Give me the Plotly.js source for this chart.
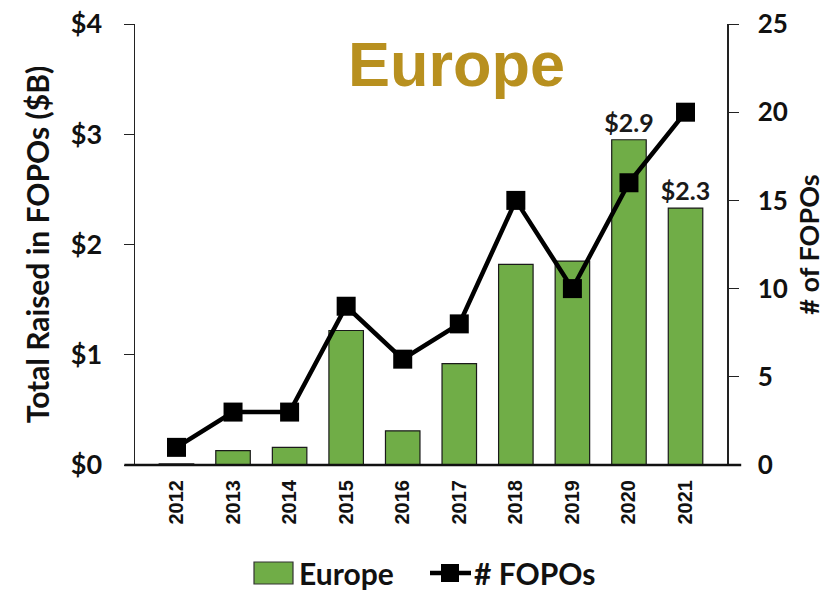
<!DOCTYPE html>
<html>
<head>
<meta charset="utf-8">
<script src="https://cdn.plot.ly/plotly-3.0.1.min.js"></script>
<style>html,body{margin:0;padding:0;background:#fff;}#chart{width:840px;height:590px;}</style>
</head>
<body>
<div id="chart"></div>
<script>
const years = ['2012','2013','2014','2015','2016','2017','2018','2019','2020','2021'];
const raised = [0.01, 0.13, 0.16, 1.22, 0.31, 0.92, 1.82, 1.85, 2.95, 2.33];
const raisedLabels = ['', '', '', '', '', '', '', '', '$2.9', '$2.3'];
const fopos = [1, 3, 3, 9, 6, 8, 15, 10, 16, 20];
const seriesNames = ['Europe', '# FOPOs'];

const fontFam = 'Lato, "Open Sans", sans-serif';
const barColor = '#70AD47';

const traces = [
  {
    type: 'bar', name: seriesNames[0], x: years, y: raised,
    text: raisedLabels, textposition: 'outside', cliponaxis: false, constraintext: 'none',
    textfont: {family: fontFam, size: 25, color: '#1a1a1a', weight: 'bold'},
    marker: {color: barColor, line: {color: '#1a1a1a', width: 1.2}},
    yaxis: 'y', showlegend: false
  },
  {
    type: 'scatter', mode: 'lines+markers', name: seriesNames[1], x: years, y: fopos,
    line: {color: '#000', width: 4.5},
    marker: {symbol: 'square', size: 19, color: '#000'},
    yaxis: 'y2', cliponaxis: false, showlegend: false
  }
];

// plot area: l=135, width 592; t=24, height 441
const px = v => (v - 135) / 592;
const py = v => (465 - v) / 441;
const legY = 573;

const layout = {
  width: 840, height: 590,
  margin: {l: 135, r: 113, t: 24, b: 125},
  paper_bgcolor: '#fff', plot_bgcolor: '#fff',
  showlegend: false,
  bargap: 0.39,
  xaxis: {
    type: 'category', showline: false, ticks: '', tickangle: -90, automargin: false,
    tickfont: {family: 'Arial, "Liberation Sans", sans-serif', size: 20, color: '#111', weight: 'bold'},
    ticklabelstandoff: 10, showgrid: false, zeroline: false
  },
  yaxis: {
    range: [0, 4], dtick: 1, tickprefix: '$', showgrid: false, zeroline: false, automargin: false,
    showline: true, linecolor: '#222', linewidth: 1.5, ticks: 'outside', ticklen: 10, tickcolor: '#222',
    tickfont: {family: fontFam, size: 27, color: '#111', weight: 'bold'},
    ticklabelstandoff: 16,
    title: {text: 'Total Raised in FOPOs ($B)', font: {family: fontFam, size: 30, color: '#111', weight: 'bold'}, standoff: 12}
  },
  yaxis2: {
    range: [0, 25], dtick: 5, overlaying: 'y', side: 'right', showgrid: false, zeroline: false, automargin: false,
    showline: true, linecolor: '#222', linewidth: 1.5, ticks: 'outside', ticklen: 10, tickcolor: '#222',
    tickfont: {family: fontFam, size: 26, color: '#111', weight: 'bold'},
    ticklabelstandoff: 14,
    title: {text: '# of FOPOs', font: {family: fontFam, size: 27, color: '#111', weight: 'bold'}, standoff: 13}
  },
  annotations: [
    {text: 'Europe', xref: 'paper', yref: 'paper', x: 0.543, y: 0.91, xanchor: 'center', yanchor: 'middle',
     showarrow: false, font: {family: 'Arial, "Liberation Sans", sans-serif', size: 63, color: '#B8901F', weight: 'bold'}},
    {text: seriesNames[0], xref: 'paper', yref: 'paper', x: px(297), y: py(legY), xanchor: 'left', yanchor: 'middle',
     showarrow: false, font: {family: fontFam, size: 30, color: '#111', weight: 'bold'}},
    {text: seriesNames[1], xref: 'paper', yref: 'paper', x: px(472), y: py(legY), xanchor: 'left', yanchor: 'middle',
     showarrow: false, font: {family: fontFam, size: 30, color: '#111', weight: 'bold'}}
  ],
  shapes: [
    {type: 'line', xref: 'paper', yref: 'paper', x0: -0.018, x1: 1.024, y0: 0, y1: 0,
     line: {color: '#111', width: 2.5}},
    // legend swatches
    {type: 'rect', xref: 'paper', yref: 'paper', x0: px(254), x1: px(293), y0: py(584), y1: py(562),
     fillcolor: barColor, line: {color: '#333', width: 1.2}},
    {type: 'line', xref: 'paper', yref: 'paper', x0: px(430), x1: px(471), y0: py(legY), y1: py(legY),
     line: {color: '#000', width: 4.5}},
    {type: 'rect', xref: 'paper', yref: 'paper', x0: px(441), x1: px(459), y0: py(legY + 9), y1: py(legY - 9),
     fillcolor: '#000', line: {width: 0}}
  ]
};

Plotly.newPlot('chart', traces, layout, {displayModeBar: false, staticPlot: true});
</script>
</body>
</html>
